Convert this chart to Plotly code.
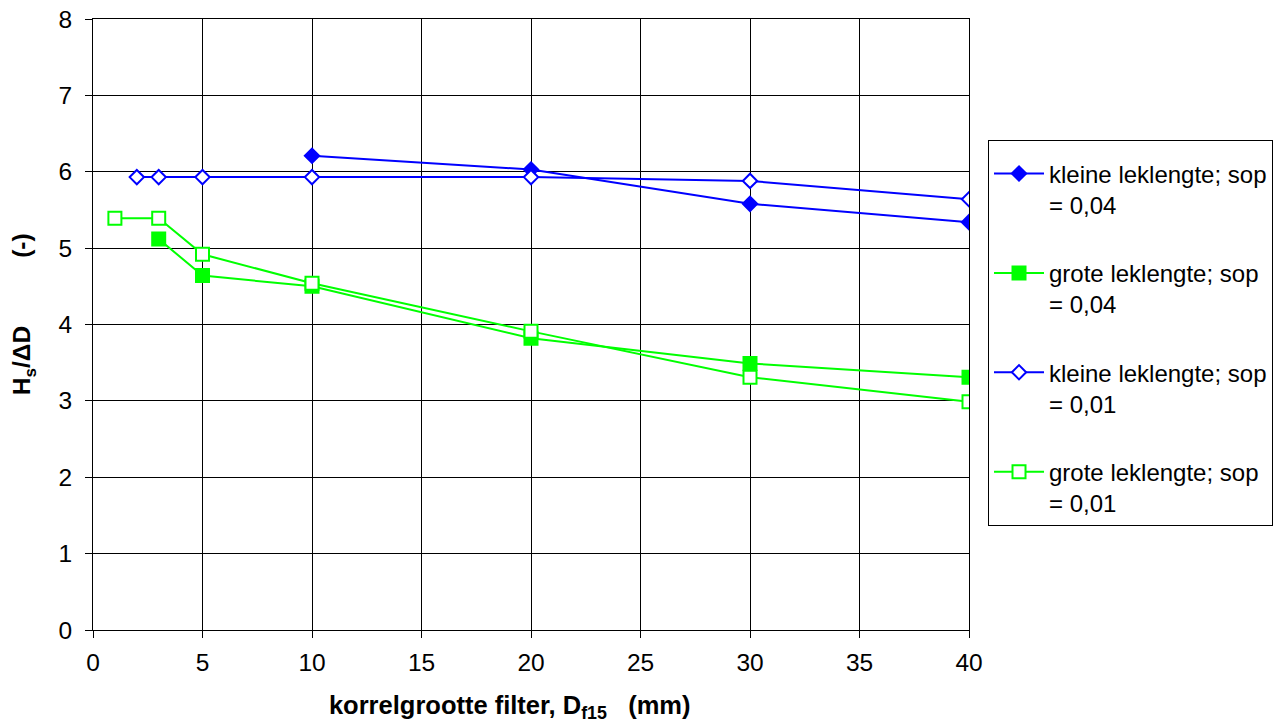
import plotly.graph_objects as go

# Filter grain size D_f15 (mm) and stability Hs/ΔD per test series
x_kleine_004 = [10, 20, 30, 40]
y_kleine_004 = [6.21, 6.03, 5.58, 5.34]

x_grote_004 = [3, 5, 10, 20, 30, 40]
y_grote_004 = [5.12, 4.64, 4.50, 3.82, 3.49, 3.31]

x_kleine_001 = [2, 3, 5, 10, 20, 30, 40]
y_kleine_001 = [5.93, 5.93, 5.93, 5.93, 5.93, 5.88, 5.64]

x_grote_001 = [1, 3, 5, 10, 20, 30, 40]
y_grote_001 = [5.39, 5.39, 4.92, 4.54, 3.91, 3.31, 2.99]

names = [
    "kleine leklengte; sop<br>= 0,04",
    "grote leklengte; sop<br>= 0,04",
    "kleine leklengte; sop<br>= 0,01",
    "grote leklengte; sop<br>= 0,01",
]

x_ticks = [0, 5, 10, 15, 20, 25, 30, 35, 40]
y_ticks = [0, 1, 2, 3, 4, 5, 6, 7, 8]

BLUE = "#0000FF"
GREEN = "#00FF00"
FONT = "Liberation Sans, Arial, sans-serif"
NB = "\u00a0"
TICK_SIZE = 24.5

fig = go.Figure()

series = [
    (x_kleine_004, y_kleine_004, names[0], BLUE, "diamond", BLUE, 11),
    (x_grote_004, y_grote_004, names[1], GREEN, "square", GREEN, 13),
    (x_kleine_001, y_kleine_001, names[2], BLUE, "diamond", "white", 11),
    (x_grote_001, y_grote_001, names[3], GREEN, "square", "white", 13),
]

for i, (xs, ys, name, col, sym, fill, size) in enumerate(series):
    fig.add_trace(go.Scatter(
        x=xs, y=ys, name=name, mode="lines+markers",
        line=dict(color=col, width=2),
        marker=dict(symbol=sym, size=size, color=fill,
                    line=dict(color=col, width=2)),
        legendgroup=f"g{i}",
    ))

axis_common = dict(
    showgrid=True, gridcolor="#000000", gridwidth=1,
    showline=True, linecolor="#000000", linewidth=1, mirror=True,
    ticks="outside", ticklen=7, tickcolor="#000000",
    tickfont=dict(family=FONT, size=TICK_SIZE, color="#000000"),
    zeroline=False, automargin=False,
)

fig.update_xaxes(
    range=[0, 40], tickvals=x_ticks, ticklabelstandoff=4,
    title=dict(text=f"<b>korrelgrootte filter, D<sub>f15</sub>{NB * 3}(mm){NB * 6}</b>",
               font=dict(family=FONT, size=25.5, color="#000000"), standoff=20),
    **axis_common,
)
fig.update_yaxes(
    range=[0, 8], tickvals=y_ticks, ticklabelstandoff=8,
    title=dict(text=f"<b>{NB * 3}H<sub>s</sub>/ΔD{NB * 10}(-)</b>",
               font=dict(family=FONT, size=24.5, color="#000000"), standoff=20),
    **axis_common,
)

fig.update_layout(
    width=1282, height=728,
    margin=dict(l=93, r=313, t=19, b=98, autoexpand=False),
    paper_bgcolor="white", plot_bgcolor="white",
    font=dict(family=FONT, size=TICK_SIZE, color="#000000"),
    legend=dict(
        x=1.0217, y=0.802, xanchor="left", yanchor="top",
        bordercolor="#000000", borderwidth=1,
        font=dict(family=FONT, size=24, color="#000000"),
        title=dict(text=" ", font=dict(size=8)),
        traceorder="grouped", tracegroupgap=34, valign="top",
        itemwidth=50,
    ),
    showlegend=True,
)

fig.write_html("out.html")
